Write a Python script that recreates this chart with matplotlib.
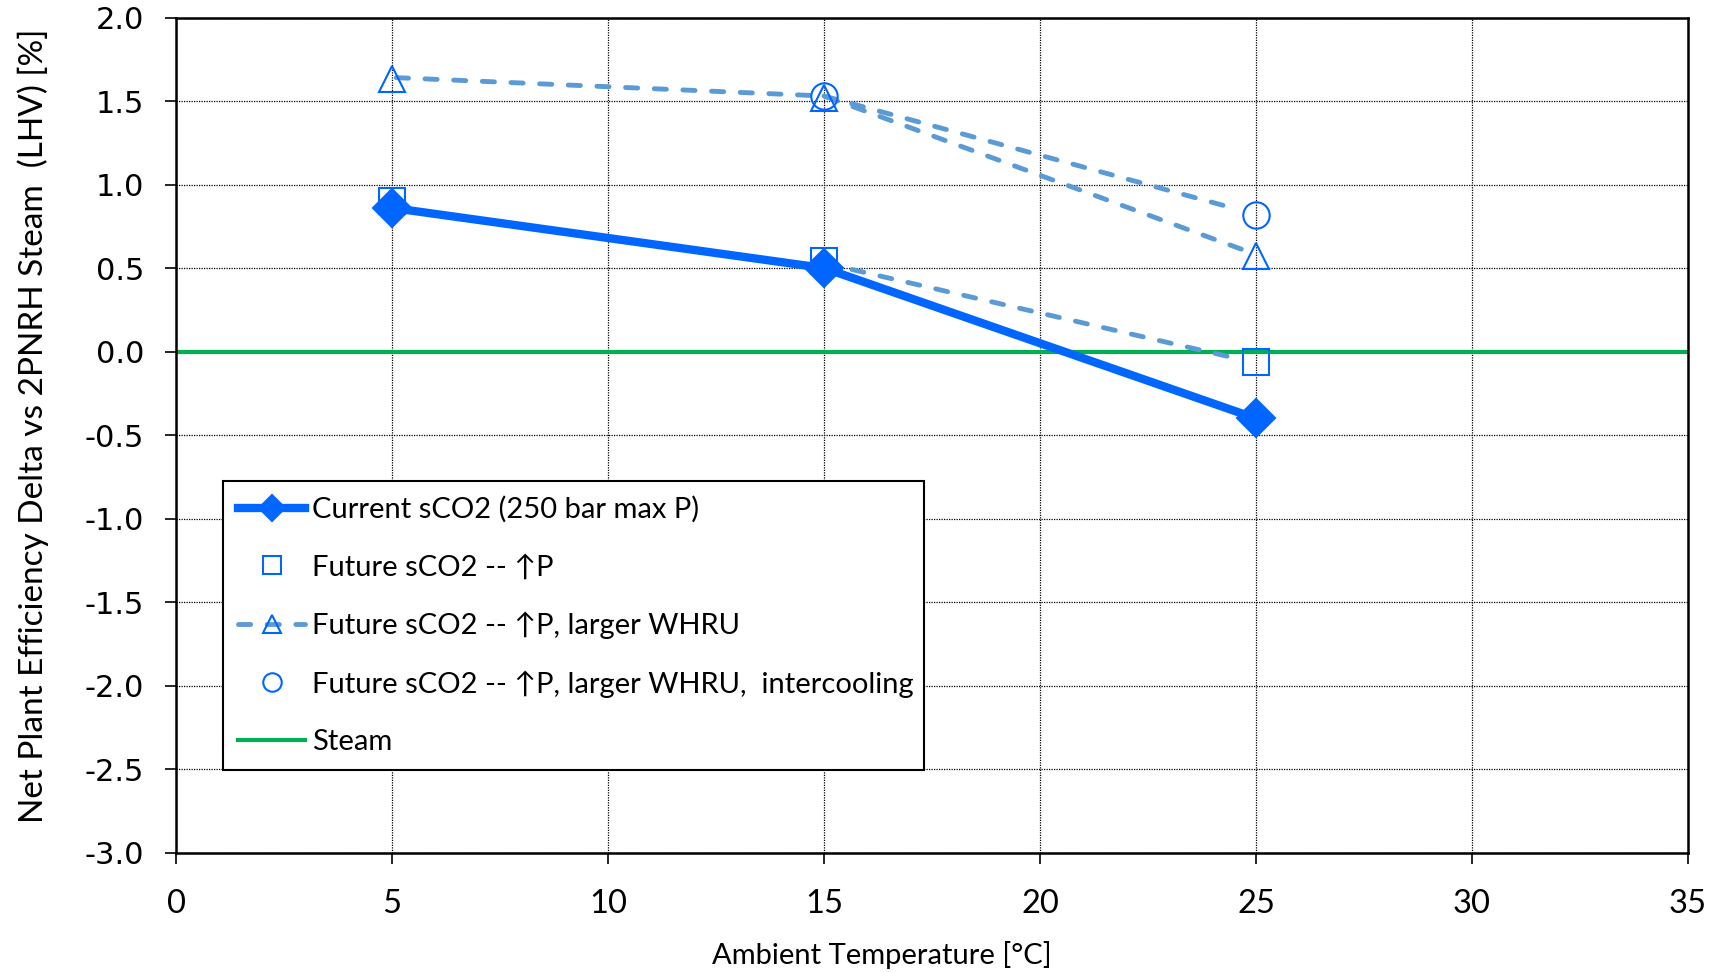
import matplotlib
matplotlib.use("Agg")
import matplotlib.pyplot as plt
from matplotlib.ticker import FormatStrFormatter, MultipleLocator
from matplotlib.lines import Line2D

plt.rcParams['axes.unicode_minus'] = False
plt.rcParams['font.family'] = ['Lato', 'DejaVu Sans']

# ---- data ----
temps = [5, 15, 25]
current = [0.86, 0.50, -0.40]
future_p = [0.90, 0.54, -0.06]
future_whru = [1.63, 1.52, 0.57]
future_ic_x = [15, 25]
future_ic = [1.53, 0.82]
steam_x = [0, 35]
steam = [0.0, 0.0]
# dashed guide lines drawn between points
dash_p_x = [15, 24.7]
dash_p = [0.53, -0.05]
dash_whru_x = [5.1, 15, 24.8]
dash_whru = [1.64, 1.53, 0.60]
dash_ic_x = [15, 24.6]
dash_ic = [1.53, 0.85]

labels = ["Current sCO2 (250 bar max P)",
          "Future sCO2 -- \u2191P",
          "Future sCO2 -- \u2191P, larger WHRU",
          "Future sCO2 -- \u2191P, larger WHRU,  intercooling",
          "Steam"]

blue = '#0066FF'
dblue = '#5B9BD5'
green = '#00B050'

fig = plt.figure(figsize=(17.14, 9.73), dpi=100)
ax = fig.add_axes([0.1027, 0.1237, 0.8821, 0.8583])

dash_kw = dict(color=dblue, lw=3.5, dashes=(2.5, 3.4), dash_capstyle='round', zorder=3)

ax.plot(steam_x, steam, color=green, lw=3, zorder=2, label=labels[4])
ax.plot(dash_p_x, dash_p, **dash_kw)
ax.plot(dash_ic_x, dash_ic, **dash_kw)
ax.plot(temps, current, color=blue, lw=6, marker='D', ms=19, mew=1.5,
        mfc=blue, mec=blue, zorder=4, label=labels[0])
ax.plot(temps, future_p, ls='none', marker='s', ms=19, mew=1.5, mfc='none',
        mec=blue, zorder=3, label=labels[1])
ax.plot(dash_whru_x, dash_whru, **dash_kw)
ax.plot(temps, future_whru, ls='none', marker='^', ms=19, mew=1.5, mfc='none',
        mec=blue, zorder=5)
ax.plot(future_ic_x, future_ic, ls='none', marker='o', ms=19, mew=1.5, mfc='none',
        mec=blue, zorder=5, label=labels[3])

# legend handle for dashed triangle
h_whru = Line2D([], [], color=dblue, lw=3.5, dashes=(2.5, 3.4), dash_capstyle='round',
                marker='^', ms=19, mew=1.5, mfc='none', mec=blue)

ax.set_xlim(0, 35)
ax.set_ylim(-3, 2)
ax.xaxis.set_major_locator(MultipleLocator(5))
ax.yaxis.set_major_locator(MultipleLocator(0.5))
ax.yaxis.set_major_formatter(FormatStrFormatter('%.1f'))
ax.grid(True, color='black', linestyle=(0, (1, 1)), lw=0.9, zorder=1)
ax.set_axisbelow(True)
for s in ax.spines.values():
    s.set_linewidth(1.8)
    s.set_color('black')
ax.tick_params(axis='both', direction='out', length=8, width=1.2, color='black')
ax.tick_params(axis='x', labelsize=23.5, pad=18)
ax.tick_params(axis='y', labelsize=22, pad=15)
for t in ax.get_yticklabels():
    t.set_fontfamily('DejaVu Sans')

ax.set_xlabel("Ambient Temperature [\u00b0C]", fontsize=21)
ax.xaxis.label.set_va('center')
ax.xaxis.set_label_coords(0.467, -0.122)
ax.set_ylabel("Net Plant Efficiency Delta vs 2PNRH Steam  (LHV) [%]", fontsize=24)
ax.yaxis.label.set_va('center')
ax.yaxis.set_label_coords(-0.0947, 0.511)

handles, labs = ax.get_legend_handles_labels()
order = {l: h for h, l in zip(handles, labs)}
hs = [order[labels[0]], order[labels[1]], h_whru, order[labels[3]], order[labels[4]]]
leg = ax.legend(hs, labels, loc='upper left', bbox_to_anchor=(0.031, 0.1025, 0.464, 0.3425),
                mode='expand', borderaxespad=0, fontsize=21, handlelength=2.3,
                handletextpad=0.25, labelspacing=1.07, borderpad=0.52,
                fancybox=False, framealpha=1, edgecolor='black', markerscale=0.7)
leg.get_frame().set_linewidth(1.5)

fig.savefig('out.png', dpi=100)
